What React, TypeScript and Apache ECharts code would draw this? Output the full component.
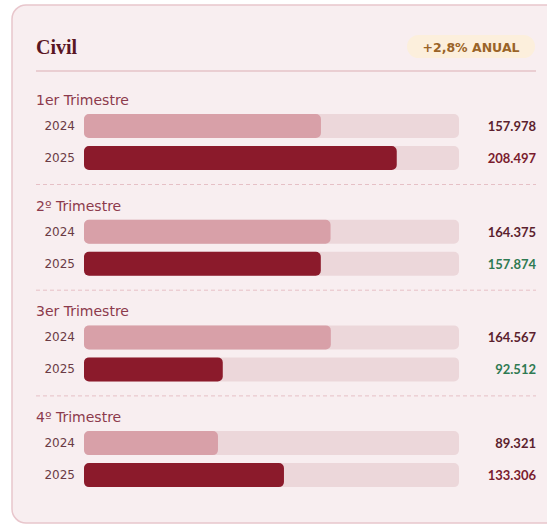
import React, { useEffect, useRef } from "react";
import * as echarts from "echarts";

const cardTitle = "Civil";
const badgeText = "+2,8% ANUAL";
const quarters = ["1er Trimestre", "2º Trimestre", "3er Trimestre", "4º Trimestre"];
const years = ["2024", "2025"];
const values2024 = [157978, 164375, 164567, 89321];
const values2025 = [208497, 157874, 92512, 133306];
const axisMax = 250000;

const fmt = (v: number) => {
  const s = String(Math.round(v));
  return s.replace(/\B(?=(\d{3})+(?!\d))/g, ".");
};

export default function App() {
  const ref = useRef<HTMLDivElement>(null);
  useEffect(() => {
    if (!ref.current) return;
    const chart = echarts.init(ref.current, null, { renderer: "svg" });
    const W = 547;
    const gridTop0 = 110;
    const step = 105.7;
    const grids: any[] = [];
    const xAxes: any[] = [];
    const yAxes: any[] = [];
    const series: any[] = [];
    const graphics: any[] = [];

    graphics.push({
      type: "rect",
      shape: { x: 12, y: 5, width: 560, height: 518, r: 14 },
      style: { fill: "#f8eef0", stroke: "#e8c6cc", lineWidth: 1.5 },
      z: -10,
    });
    graphics.push({
      type: "text",
      x: 36,
      y: 47,
      style: {
        text: cardTitle,
        font: "bold 20px 'Liberation Serif', serif",
        fill: "#5a1623",
        verticalAlign: "middle",
        align: "left",
      },
    });
    graphics.push({
      type: "rect",
      shape: { x: 407, y: 35, width: 128, height: 23, r: 11.5 },
      style: { fill: "#fcefdc" },
    });
    graphics.push({
      type: "text",
      x: 471,
      y: 47,
      style: {
        text: badgeText,
        font: "bold 12.5px 'DejaVu Sans', sans-serif",
        fill: "#9a6428",
        align: "center",
        verticalAlign: "middle",
      },
    });
    graphics.push({
      type: "line",
      shape: { x1: 36, y1: 71, x2: 536, y2: 71 },
      style: { stroke: "#e6c3c9", lineWidth: 1.5 },
    });

    quarters.forEach((q, i) => {
      const top = gridTop0 + i * step;
      grids.push({ left: 84, right: W - 459, top, height: 64, containLabel: false });
      xAxes.push({
        gridIndex: i,
        type: "value",
        min: 0,
        max: axisMax,
        show: false,
      });
      yAxes.push({
        gridIndex: i,
        type: "category",
        data: years,
        inverse: true,
        axisLine: { show: false },
        axisTick: { show: false },
        splitLine: { show: false },
        axisLabel: {
          margin: 9,
          color: "#6b3b45",
          fontSize: 12,
          fontFamily: "'DejaVu Sans', sans-serif",
        },
      });
      const down = values2025[i] < values2024[i];
      yAxes.push({
        gridIndex: i,
        type: "category",
        position: "right",
        offset: 77,
        data: [fmt(values2024[i]), fmt(values2025[i])],
        inverse: true,
        axisLine: { show: false },
        axisTick: { show: false },
        splitLine: { show: false },
        axisLabel: {
          inside: true,
          align: "right",
          margin: 0,
          fontSize: 13,
          fontWeight: "bold",
          fontFamily: "Lato, sans-serif",
          formatter: (v: string, idx: number) =>
            idx === 0 ? `{a|${v}}` : down ? `{d|${v}}` : `{u|${v}}`,
          rich: {
            a: { color: "#5c1f2e", fontSize: 13, fontWeight: "bold", fontFamily: "Lato, sans-serif" },
            u: { color: "#7a1c2e", fontSize: 13, fontWeight: "bold", fontFamily: "Lato, sans-serif" },
            d: { color: "#2f7a52", fontSize: 13, fontWeight: "bold", fontFamily: "Lato, sans-serif" },
          },
        },
      });
      series.push({
        type: "bar",
        xAxisIndex: i,
        yAxisIndex: i * 2,
        barWidth: 24,
        showBackground: true,
        backgroundStyle: { color: "#ecd7da", borderRadius: 5 },
        itemStyle: { borderRadius: 5 },
        data: [
          { value: values2024[i], itemStyle: { color: "#d8a0a8" } },
          { value: values2025[i], itemStyle: { color: "#8b1a2b" } },
        ],
      });
      graphics.push({
        type: "text",
        x: 36,
        y: top - 10,
        style: {
          text: q,
          font: "14px 'DejaVu Sans', sans-serif",
          fill: "#8c3a4c",
          align: "left",
          verticalAlign: "middle",
        },
      });
      if (i < quarters.length - 1) {
        graphics.push({
          type: "line",
          shape: { x1: 36, y1: top + 74.5, x2: 536, y2: top + 74.5 },
          style: { stroke: "#e6c0c6", lineWidth: 1, lineDash: [4, 3] },
        });
      }
    });

    chart.setOption({
      animation: false,
      backgroundColor: "#ffffff",
      grid: grids,
      xAxis: xAxes,
      yAxis: yAxes,
      series,
      graphic: graphics,
    });
    return () => chart.dispose();
  }, []);
  return (
    <div
      ref={ref}
      style={{ position: "absolute", left: 0, top: 0, width: 547, height: 524 }}
    />
  );
}
